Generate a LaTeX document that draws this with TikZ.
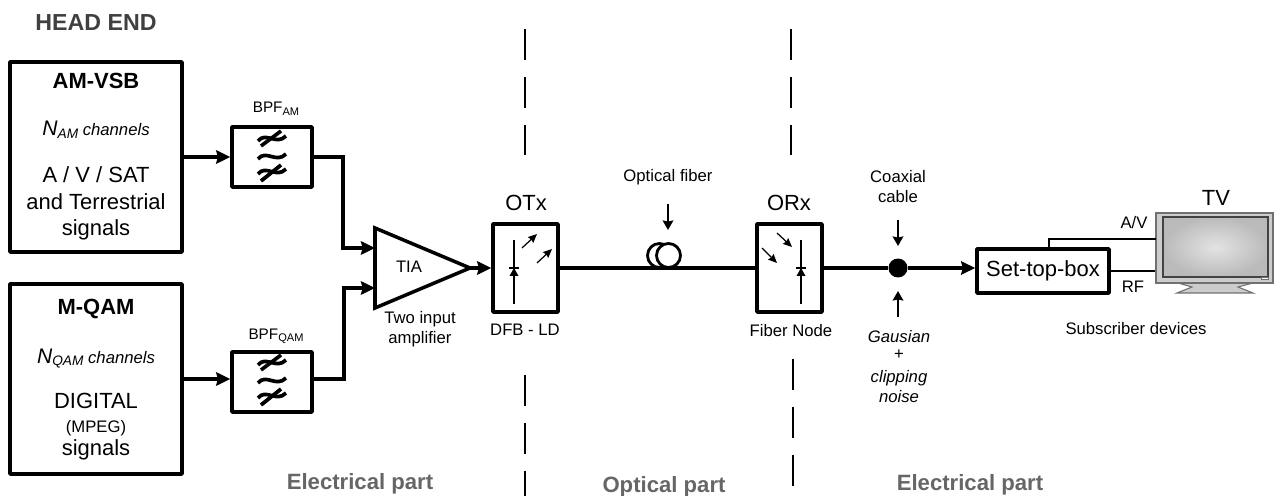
\documentclass[tikz,border=0pt]{standalone}
\usepackage{fontspec}
\setmainfont{Liberation Sans}
\usetikzlibrary{positioning}
\usetikzlibrary{arrows.meta}

\definecolor{headgray}{HTML}{404040}
\definecolor{partgray}{HTML}{666666}
\definecolor{tvframe}{HTML}{CCCCCC}
\definecolor{tvedge}{HTML}{707070}

\newcommand{\lowtxt}[2]{\raisebox{-0.3ex}{\fontsize{#1}{#1}\selectfont #2}}

\tikzset{
  txtsmall/.style={font=\fontsize{9.5}{11}\selectfont,anchor=base,inner sep=0pt},
  txtlarge/.style={font=\fontsize{12.5}{14}\selectfont,anchor=base,inner sep=0pt},
  txthead/.style={font=\fontsize{13.2}{15}\selectfont\bfseries,text=headgray,anchor=base,inner sep=0pt},
  txtpart/.style={font=\fontsize{12.6}{14}\selectfont\bfseries,text=partgray,anchor=base,inner sep=0pt},
  blockbox/.style={draw,line width=2pt,line join=round,inner sep=0pt},
  sigline/.style={line width=1.75pt},
  sigarrow/.style={line width=1.75pt,-{Stealth[length=8pt,width=7.6pt,inset=1pt]}},
  feedarrow/.style={line width=1.3pt,-{Stealth[length=5.4pt,width=6pt,inset=0.6pt]}},
  tinyarrow/.style={line width=0.7pt,-{Stealth[length=5pt,width=4.4pt,inset=0.5pt]}},
  partline/.style={line width=1.1pt,dash pattern=on 17.6pt off 9.6pt},
  tvline/.style={line width=1.2pt},
  filtersym/.pic={
    \draw[line width=2.1pt] (-14,-16) .. controls (-6,-26) and (4,-11) .. (14,-21);
    \draw[line width=2.1pt] (-14,2) .. controls (-6,-8) and (4,7) .. (14,-3);
    \draw[line width=2.1pt] (-14,17) .. controls (-6,7) and (4,22) .. (14,12);
    \draw[line width=2.1pt] (-11,-11) -- (9,-26);
    \draw[line width=2.1pt] (-11,24) -- (9,8);
  },
  diodesym/.pic={
    \draw[line width=0.7pt] (0,-28) -- (0,36);
    \draw[line width=0.7pt] (-5,0) -- (5,0);
    \fill (0,0) -- (4.5,8) -- (-4.5,8) -- cycle;
  }
}

\begin{document}
\begin{tikzpicture}[x=0.02cm,y=-0.02cm]
\useasboundingbox (0,0) rectangle (1274,496);

\node[txthead] (headend) at (96,30.5) {HEAD END};

% sources
\node[blockbox,minimum width=3.44cm,minimum height=3.8cm] (amsrc) at (96,157) {};
\node[txtlarge,font=\fontsize{12.5}{14}\selectfont\bfseries] (amname) at (96,89) {AM-VSB};
\node[txtsmall,font=\fontsize{9.5}{11}\selectfont\itshape] (amchan) at (96,136) {{\fontsize{12}{14}\selectfont N}\lowtxt{7.8}{AM} channels};
\node[txtlarge] (amtxta) at (96,183) {A / V / SAT};
\node[txtlarge] (amtxtb) at (96,210) {and Terrestrial};
\node[txtlarge] (amtxtc) at (96,236) {signals};

\node[blockbox,minimum width=3.44cm,minimum height=3.8cm] (qamsrc) at (96,379) {};
\node[txtlarge,font=\fontsize{12.5}{14}\selectfont\bfseries] (qamname) at (96,315) {M-QAM};
\node[txtsmall,font=\fontsize{9.5}{11}\selectfont\itshape] (qamchan) at (96,363) {{\fontsize{12}{14}\selectfont N}\lowtxt{7.8}{QAM} channels};
\node[txtlarge] (qamtxta) at (96,408) {DIGITAL};
\node[txtsmall] (qamtxtb) at (96,432) {(MPEG)};
\node[txtlarge] (qamtxtc) at (96,455) {signals};

% filters
\node[blockbox,minimum width=1.6cm,minimum height=1.2cm] (amfilt) at (272,157) {};
\node[blockbox,minimum width=1.6cm,minimum height=1.2cm] (qamfilt) at (272,382) {};
\pic at (272,157) {filtersym};
\pic at (272,381) {filtersym};
\node[txtsmall,font=\fontsize{8.7}{10}\selectfont] (amfiltname) at (276,113) {BPF\lowtxt{6.3}{AM}};
\node[txtsmall,font=\fontsize{8.7}{10}\selectfont] (qamfiltname) at (276,339) {BPF\lowtxt{6.3}{QAM}};

% amplifier
\coordinate (tiain1) at (375,248);
\coordinate (tiain2) at (375,288);
\coordinate (tiaout) at (470,268);
\coordinate (amturn) at (343,157);
\coordinate (qamturn) at (344,379);
\draw[line width=2pt,line join=miter] (375,228) -- (tiaout) -- (375,308) -- cycle;
\node[txtsmall] (tianame) at (409,273) {TIA};
\node[txtsmall] (tiatxta) at (420,324) {Two input};
\node[txtsmall] (tiatxtb) at (420,343) {amplifier};

% optical ends
\node[blockbox,minimum width=1.3cm,minimum height=1.76cm] (otx) at (525.5,268) {};
\node[blockbox,minimum width=1.3cm,minimum height=1.76cm] (orx) at (789.5,268) {};
\node[txtlarge] (otxname) at (526,211) {OTx};
\node[txtlarge] (orxname) at (789,211) {ORx};
\node[txtsmall] (otxtxt) at (525,336) {DFB - LD};
\node[txtsmall] (orxtxt) at (791,337) {Fiber Node};
\pic at (514,268) {diodesym};
\pic at (801,268) {diodesym};
\draw[tinyarrow] (522,248) -- (537,234);
\draw[tinyarrow] (537,263) -- (552,249);
\draw[tinyarrow] (777,233) -- (792,247);
\draw[tinyarrow] (762,248) -- (777,263);

% fiber and noise point
\node[circle,draw,line width=1.6pt,minimum size=0.48cm,inner sep=0pt] (coilback) at (659.5,255.5) {};
\node[circle,draw,line width=1.6pt,minimum size=0.48cm,fill=white,inner sep=0pt] (coilfront) at (668.5,255.5) {};
\node[txtsmall] (fibername) at (668,182) {Optical fiber};
\coordinate (fibertop) at (668,204);
\coordinate (fibertip) at (668,230);
\draw[feedarrow] (fibertop) -- (fibertip);

\node[circle,fill=black,minimum size=0.38cm,inner sep=0pt] (noisedot) at (898,268) {};
\coordinate (coaxtop) at (898,220);
\coordinate (coaxtip) at (898,246);
\coordinate (noisebot) at (898,317);
\coordinate (noisetip) at (898,291);
\draw[feedarrow] (coaxtop) -- (coaxtip);
\draw[feedarrow] (noisebot) -- (noisetip);
\node[txtsmall] (coaxtxta) at (898,183) {Coaxial};
\node[txtsmall] (coaxtxtb) at (898,203) {cable};
\node[txtsmall,font=\fontsize{9.5}{11}\selectfont\itshape] (noisetxta) at (899,342) {Gausian};
\node[txtsmall] (noisetxtb) at (899,359) {+};
\node[txtsmall,font=\fontsize{9.5}{11}\selectfont\itshape] (noisetxtc) at (899,382) {clipping};
\node[txtsmall,font=\fontsize{9.5}{11}\selectfont\itshape] (noisetxtd) at (899,402) {noise};

% subscriber side
\node[blockbox,line width=2.1pt,minimum width=2.64cm,minimum height=0.88cm] (stb) at (1043,271) {};
\node[txtlarge] (stbname) at (1043,277) {Set-top-box};
\draw[fill=tvframe,draw=tvedge,line width=0.6pt] (1178,283) -- (1192,287) -- (1177,293) -- (1253,293) -- (1238,287) -- (1253,283) -- cycle;
\node[draw=tvedge,fill=tvframe,line width=0.7pt,minimum width=2.34cm,minimum height=1.4cm,inner sep=0pt] (tv) at (1214.5,248) {};
\shade[inner color=black!11,outer color=black!27,draw=tvedge!60!black,line width=0.8pt] (1163,217) rectangle (1268,277);
\draw[fill=white,draw=tvedge,line width=0.4pt] (1261,277) rectangle (1268,279);
\node[txtlarge] (tvname) at (1216,206) {TV};
\node[txtsmall] (avname) at (1134,229) {A/V};
\node[txtsmall] (rfname) at (1133,293) {RF};
\node[txtsmall] (subname) at (1136,335) {Subscriber devices};
\coordinate (avtap) at (1049,249);
\coordinate (avend) at (1156,239);
\draw[tvline] (avtap) |- (avend);
\draw[tvline] (stb) -- (stb -| tv.west);

% signal path
\draw[sigarrow] (amsrc) -- (amfilt);
\draw[sigarrow] (qamsrc.east |- qamturn) -- (qamfilt.west |- qamturn);
\draw[sigarrow] (amfilt) -- (amturn) |- (tiain1);
\draw[sigarrow] (qamfilt.east |- qamturn) -- (qamturn) |- (tiain2);
\draw[sigarrow] (tiaout) -- (otx);
\draw[sigline] (otx) -- (orx);
\draw[sigline] (orx) -- (noisedot);
\draw[sigarrow] (noisedot) -- (noisedot -| stb.west);

% part boundaries
\draw[partline] (525,29) -- (525,157);
\draw[partline] (525,375) -- (525,496);
\draw[partline] (791,29) -- (791,157);
\draw[partline] (793,359) -- (793,487);
\node[txtpart] (parta) at (360,489) {Electrical part};
\node[txtpart] (partb) at (664,492) {Optical part};
\node[txtpart] (partc) at (970,490) {Electrical part};

\end{tikzpicture}
\end{document}
